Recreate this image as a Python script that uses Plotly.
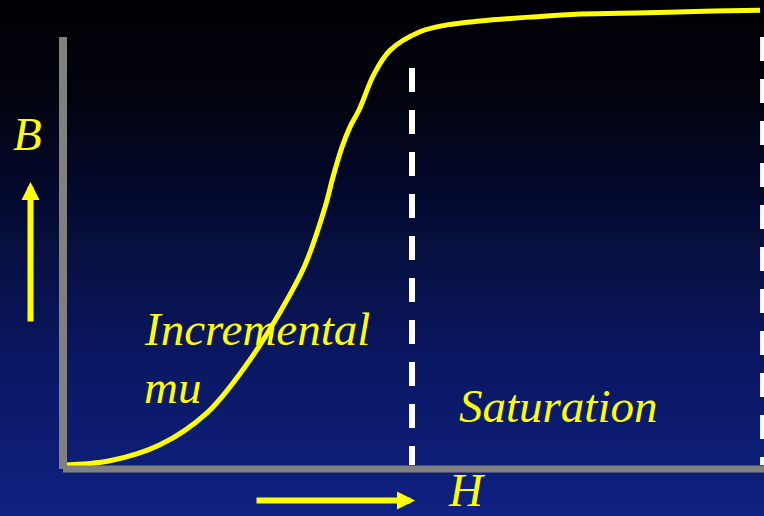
import plotly.graph_objects as go

# B-H magnetisation curve (H and B in relative units)
H = [0.000, 0.673, 1.390, 2.063, 2.636, 3.109, 3.467, 3.754, 3.868, 3.997, 4.112,
     4.241, 4.456, 4.685, 5.115, 5.501, 5.974, 6.691, 7.407, 8.367, 9.312, 9.986]
B = [0.009, 0.019, 0.056, 0.130, 0.243, 0.363, 0.472, 0.606, 0.676, 0.745, 0.792,
     0.831, 0.914, 0.969, 1.012, 1.028, 1.037, 1.046, 1.053, 1.056, 1.060, 1.062]

# region boundaries (dashed) and their top ends
boundary_h = [5.0, 10.03]
boundary_top = [0.928, 1.0]

region_labels = ['Incremental', 'mu', 'Saturation']
axis_labels = ['B', 'H']

# background gradient, top -> bottom
bg_colors = ['#000004', '#02040f', '#040930', '#07103f', '#0a1660', '#0d1d74', '#0f2182']
bg_pos = [0.0, 0.19, 0.39, 0.48, 0.68, 0.87, 1.0]

W, HT = 764, 516
X0, UX = 63, 69.8   # pixel of H=0, pixels per unit
Y0, UY = 469, 432   # pixel of B=0, pixels per unit

xr = [(0 - X0) / UX, (W - X0) / UX]
yr = [(Y0 - HT) / UY, Y0 / UY]


def px(x, y):
    return x / W, 1 - y / HT


fig = go.Figure()

# background as a smooth heatmap spanning the whole figure
rows = [yr[1] - (yr[1] - yr[0]) * p for p in bg_pos]
fig.add_trace(go.Heatmap(
    x=xr, y=rows, z=[[p, p] for p in bg_pos],
    colorscale=[[p, c] for p, c in zip(bg_pos, bg_colors)],
    zmin=0, zmax=1, zsmooth='best', showscale=False, hoverinfo='skip'))

fig.add_trace(go.Scatter(x=H, y=B, mode='lines',
                         line=dict(color='#ffff00', width=5, shape='spline', smoothing=1.0),
                         hoverinfo='skip', showlegend=False))

shapes = [
    dict(type='line', xref='x', yref='y', x0=0, x1=0, y0=1.0, y1=0,
         line=dict(color='#808080', width=8)),
    dict(type='line', xref='x', yref='y', x0=0, x1=xr[1], y0=0, y1=0,
         line=dict(color='#808080', width=7)),
]
for h, top in zip(boundary_h, boundary_top):
    shapes.append(dict(type='line', xref='x', yref='y', x0=h, x1=h, y0=top, y1=0.009,
                       line=dict(color='white', width=6, dash='24px,18px')))

font = dict(family='Liberation Serif, Times New Roman, serif', size=47,
            color='#ffff00', style='italic')
ann = []
for text, (x, y) in zip(region_labels, [(142, 329), (142, 387), (457, 406)]):
    a, b = px(x, y)
    ann.append(dict(text=text, x=a, y=b, xref='paper', yref='paper',
                    xanchor='left', yanchor='middle', showarrow=False, font=font))
for text, (x, y) in zip(axis_labels, [(28, 134), (467, 490)]):
    a, b = px(x, y)
    ann.append(dict(text=text, x=a, y=b, xref='paper', yref='paper',
                    xanchor='center', yanchor='middle', showarrow=False, font=font))

# direction arrows
for (tx, ty), (ax, ay) in [((30.5, 182), (0, 141)), ((415, 500.5), (-160, 0))]:
    a, b = px(tx, ty)
    ann.append(dict(text='', x=a, y=b, xref='paper', yref='paper', ax=ax, ay=ay,
                    showarrow=True, arrowhead=2, arrowsize=0.6, arrowwidth=6,
                    arrowcolor='#ffff00', standoff=0))

fig.update_layout(
    width=W, height=HT, autosize=False,
    margin=dict(l=0, r=0, t=0, b=0),
    paper_bgcolor='#000004', plot_bgcolor='#000004',
    xaxis=dict(range=xr, visible=False, fixedrange=True),
    yaxis=dict(range=yr, visible=False, fixedrange=True),
    shapes=shapes, annotations=ann, showlegend=False,
)

fig.write_html("out.html", config={'displayModeBar': False},
               post_script="document.body.style.margin='0';document.body.style.overflow='hidden';")
